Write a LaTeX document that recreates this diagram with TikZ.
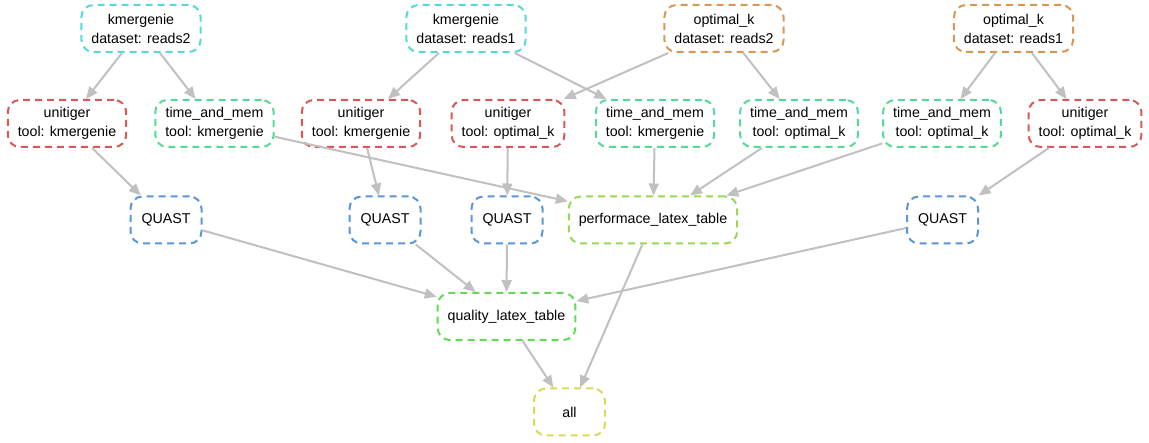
\documentclass[tikz,border=0pt]{standalone}
\usepackage{fontspec}
\setmainfont{Liberation Sans}
\usetikzlibrary{arrows.meta}
\definecolor{kmergeniecol}{RGB}{87,217,217}
\definecolor{optimalcol}{RGB}{217,150,87}
\definecolor{unitigercol}{RGB}{217,87,87}
\definecolor{timecol}{RGB}{87,217,150}
\definecolor{quastcol}{RGB}{87,150,217}
\definecolor{perfcol}{RGB}{150,217,87}
\definecolor{qualcol}{RGB}{98,217,87}
\definecolor{allcol}{RGB}{217,217,87}
\definecolor{depgray}{RGB}{192,192,192}
\tikzset{
	rulebox/.style={draw=#1, rounded corners=12pt, dash pattern=on 7pt off 5pt, line width=2pt,
		minimum width=71pt, minimum height=47pt, inner xsep=10pt, align=center,
		font=\fontsize{14.2}{19}\selectfont},
	dep/.style={-{Triangle[length=12pt,width=10pt]}, color=depgray, line width=2pt}
}
\begin{document}
\begin{tikzpicture}[x=1pt, y=-1pt]
		\useasboundingbox (0,0) rectangle (1149,443);
		\node[rulebox=kmergeniecol] (k2) at (141,28.5) {kmergenie\\dataset: reads2};
		\node[rulebox=kmergeniecol] (k1) at (466,28.5) {kmergenie\\dataset: reads1};
		\node[rulebox=optimalcol] (o2) at (724,28.5) {optimal\_k\\dataset: reads2};
		\node[rulebox=optimalcol] (o1) at (1013.5,28.5) {optimal\_k\\dataset: reads1};
		\node[rulebox=unitigercol] (uk2) at (67,123.5) {unitiger\\tool: kmergenie};
		\node[rulebox=timecol] (tk2) at (214.5,123.5) {time\_and\_mem\\tool: kmergenie};
		\node[rulebox=unitigercol] (uk1) at (361,123.5) {unitiger\\tool: kmergenie};
		\node[rulebox=unitigercol] (uo2) at (508,123.5) {unitiger\\tool: optimal\_k};
		\node[rulebox=timecol] (tk1) at (655,123.5) {time\_and\_mem\\tool: kmergenie};
		\node[rulebox=timecol] (to2) at (799,123.5) {time\_and\_mem\\tool: optimal\_k};
		\node[rulebox=timecol] (to1) at (942,123.5) {time\_and\_mem\\tool: optimal\_k};
		\node[rulebox=unitigercol] (uo1) at (1085,123.5) {unitiger\\tool: optimal\_k};
		\node[rulebox=quastcol] (q1) at (166,220) {QUAST};
		\node[rulebox=quastcol] (q2) at (385,220) {QUAST};
		\node[rulebox=quastcol] (q3) at (507,220) {QUAST};
		\node[rulebox=perfcol] (perf) at (653,220) {performace\_latex\_table};
		\node[rulebox=quastcol] (q4) at (942.5,220) {QUAST};
		\node[rulebox=qualcol] (qual) at (506.5,316.5) {quality\_latex\_table};
		\node[rulebox=allcol] (all) at (569.5,412) {all};
		\foreach \from/\to in {k2/uk2, k2/tk2, k1/uk1, k1/tk1, o2/uo2, o2/to2, o1/to1, o1/uo1,
			uk2/q1, uk1/q2, uo2/q3, uo1/q4, tk2/perf, tk1/perf, to2/perf, to1/perf,
			q1/qual, q2/qual, q3/qual, q4/qual, qual/all, perf/all}{
			\draw[dep] (\from) -- (\to);
		}
	\end{tikzpicture}
\end{document}
